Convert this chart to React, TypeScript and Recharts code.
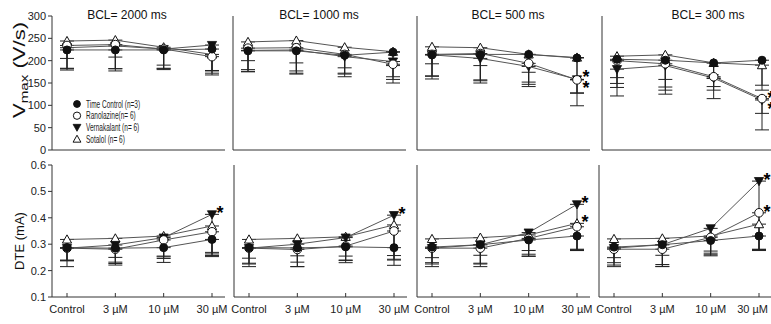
import React from 'react';
import { LineChart, Line, XAxis, YAxis, ErrorBar, ReferenceDot, Legend } from 'recharts';

const FONT = '"Liberation Sans", Arial, Helvetica, sans-serif';

const categories = ['Control', '3 µM', '10 µM', '30 µM'];
const bclTitles = ['BCL= 2000 ms', 'BCL= 1000 ms', 'BCL= 500 ms', 'BCL= 300 ms'];
const seriesNames = ['Time Control (n=3)', 'Ranolazine(n= 6)', 'Vernakalant (n= 6)', 'Sotalol (n= 6)'];
const vmaxTicks = [0, 50, 100, 150, 200, 250, 300];
const dteTicks = [0.1, 0.2, 0.3, 0.4, 0.5, 0.6];

// Vmax (V/s), one row per BCL panel [2000, 1000, 500, 300] ms
const vmaxTimeControl = [[224, 224, 224, 226], [222, 222, 212, 219], [213, 214, 214, 206], [203, 201, 195, 201]];
const vmaxTimeControlSD = [[19, 16, 34, 49], [22, 27, 28, 30], [20, 25, 40, 48], [54, 60, 53, 56]];
const vmaxRanolazine = [[234, 236, 226, 209], [228, 229, 214, 192], [214, 216, 194, 157], [200, 193, 164, 115]];
const vmaxRanolazineSD = [[51, 54, 44, 37], [53, 59, 50, 42], [55, 66, 52, 58], [60, 59, 30, 70]];
const vmaxVernakalant = [[229, 233, 226, 235], [223, 224, 209, 198], [213, 205, 187, 158], [181, 189, 161, 112]];
const vmaxVernakalantSD = [[50, 56, 46, 67], [47, 52, 39, 40], [48, 50, 40, 30], [60, 64, 46, 30]];
const vmaxSotalol = [[244, 246, 230, 214], [242, 245, 230, 220], [231, 229, 214, 207], [210, 213, 195, 190]];
const vmaxSotalolSD = [[62, 64, 47, 36], [62, 68, 58, 56], [65, 72, 62, 80], [48, 55, 35, 56]];

// DTE (mA), one row per BCL panel [2000, 1000, 500, 300] ms
const dteTimeControl = [[0.287, 0.285, 0.287, 0.318], [0.287, 0.286, 0.29, 0.287], [0.289, 0.298, 0.316, 0.331], [0.289, 0.298, 0.314, 0.331]];
const dteTimeControlSD = [[0.05, 0.035, 0.035, 0.055], [0.04, 0.03, 0.035, 0.03], [0.04, 0.04, 0.04, 0.05], [0.04, 0.04, 0.04, 0.05]];
const dteRanolazine = [[0.285, 0.281, 0.316, 0.347], [0.285, 0.28, 0.293, 0.35], [0.285, 0.285, 0.322, 0.366], [0.281, 0.281, 0.326, 0.419]];
const dteRanolazineSD = [[0.07, 0.06, 0.07, 0.09], [0.07, 0.065, 0.063, 0.13], [0.07, 0.06, 0.06, 0.09], [0.06, 0.065, 0.06, 0.14]];
const dteVernakalant = [[0.285, 0.297, 0.325, 0.413], [0.285, 0.3, 0.325, 0.41], [0.285, 0.298, 0.344, 0.451], [0.285, 0.298, 0.36, 0.539]];
const dteVernakalantSD = [[0.045, 0.07, 0.07, 0.16], [0.06, 0.085, 0.085, 0.17], [0.055, 0.07, 0.09, 0.175], [0.055, 0.075, 0.1, 0.26]];
const dteSotalol = [[0.318, 0.322, 0.331, 0.369], [0.318, 0.322, 0.328, 0.373], [0.32, 0.325, 0.335, 0.379], [0.32, 0.322, 0.331, 0.376]];
const dteSotalolSD = [[0.08, 0.09, 0.1, 0.1], [0.09, 0.09, 0.09, 0.13], [0.095, 0.11, 0.08, 0.1], [0.105, 0.107, 0.075, 0.1]];

// significance stars at 30 µM: [series key, number of stars]
const vmaxStarred: [string, number][][] = [[], [], [['ve', 2]], [['ve', 2]]];
const dteStarred: [string, number][][] = [[['ve', 1]], [['ve', 1]], [['ve', 1], ['so', 1]], [['ve', 1], ['ra', 1]]];

type Kind = 'tc' | 'ra' | 've' | 'so';
const DRAW_ORDER: Kind[] = ['so', 've', 'ra', 'tc'];
const LEGEND_ORDER: Kind[] = ['tc', 'ra', 've', 'so'];

function marker(kind: Kind, cx: number, cy: number, s: number, key?: string) {
  const ink = '#111';
  if (kind === 'tc') return <circle key={key} cx={cx} cy={cy} r={4 * s} fill={ink} stroke={ink} />;
  if (kind === 'ra') return <circle key={key} cx={cx} cy={cy} r={4.3 * s} fill="#fff" stroke={ink} strokeWidth={1} />;
  if (kind === 've') {
    const p = `${cx - 4.6 * s},${cy - 3.6 * s} ${cx + 4.6 * s},${cy - 3.6 * s} ${cx},${cy + 4.6 * s}`;
    return <polygon key={key} points={p} fill={ink} stroke={ink} strokeWidth={0.8} />;
  }
  const p = `${cx - 4.6 * s},${cy + 3.6 * s} ${cx + 4.6 * s},${cy + 3.6 * s} ${cx},${cy - 4.6 * s}`;
  return <polygon key={key} points={p} fill="#fff" stroke={ink} strokeWidth={1} />;
}

function buildRows(p: number, tc: number[][], tcSD: number[][], ra: number[][], raSD: number[][], ve: number[][], veSD: number[][], so: number[][], soSD: number[][]) {
  return categories.map((cat, i) => ({
    cat,
    tc: tc[p][i], tcE: [tcSD[p][i], 0],
    ra: ra[p][i], raE: [raSD[p][i], 0],
    ve: ve[p][i], veE: [veSD[p][i], 0],
    so: so[p][i], soE: [soSD[p][i], 0],
  }));
}

const LegendBox = () => (
  <svg width={90} height={50} style={{ display: 'block', overflow: 'visible' }}>
    {LEGEND_ORDER.map((k, i) => (
      <g key={k}>
        {marker(k, 7, 7 + i * 11.7, 0.85)}
        <g transform={`translate(16, ${7 + i * 11.7 + 3.6}) scale(0.62, 1)`}>
          <text x={0} y={0} fontSize={10.5} fill="#222" fontFamily={FONT}>{seriesNames[i]}</text>
        </g>
      </g>
    ))}
  </svg>
);

function makeXTick(rightLimit: number) {
  return (props: any) => {
    const { x, y, payload } = props;
    const label = String(payload.value);
    const half = label.length * 3.1;
    const overflow = x + half > rightLimit;
    return (
      <text
        x={overflow ? rightLimit : x}
        y={y}
        dy="0.71em"
        textAnchor={overflow ? 'end' : 'middle'}
        fontSize={11}
        fill="#222"
        fontFamily={FONT}
      >
        {label}
      </text>
    );
  };
}

function Panel({ top, panel }: { top: boolean; panel: number }) {
  const axisX = top ? [52, 233, 417, 602][panel] : [52, 234, 417, 599][panel];
  const first = panel === 0;
  const yW = first ? 52 : 10;
  const left = axisX - yW;
  const plotW = 173;
  const rightM = 18;
  const width = yW + plotW + rightM;
  const height = top ? 160 : 169;
  const divTop = top ? 0 : 155;
  const margin = top ? { top: 16, right: rightM, bottom: 5, left: 0 } : { top: 10, right: rightM, bottom: 7, left: 0 };
  const xH = top ? 5 : 20;
  const data = top
    ? buildRows(panel, vmaxTimeControl, vmaxTimeControlSD, vmaxRanolazine, vmaxRanolazineSD, vmaxVernakalant, vmaxVernakalantSD, vmaxSotalol, vmaxSotalolSD)
    : buildRows(panel, dteTimeControl, dteTimeControlSD, dteRanolazine, dteRanolazineSD, dteVernakalant, dteVernakalantSD, dteSotalol, dteSotalolSD);
  const starred = top ? vmaxStarred[panel] : dteStarred[panel];
  const last = data[data.length - 1] as any;
  const titleX = [127, 319, 508, 708][panel] - left;
  const rightLimit = 771 - left - 3;

  return (
    <div style={{ position: 'absolute', left, top: divTop, width, height }}>
      <LineChart width={width} height={height} data={data} margin={margin} style={{ fontFamily: FONT }}>
        <XAxis
          dataKey="cat"
          type="category"
          padding={{ left: 15, right: 13 }}
          height={xH}
          interval={0}
          tickSize={-4}
          tickMargin={12}
          tick={top ? false : makeXTick(rightLimit)}
          axisLine={{ stroke: '#333' }}
          tickLine={{ stroke: '#333' }}
        />
        <YAxis
          width={yW}
          type="number"
          domain={top ? [0, 300] : [0.1, 0.6]}
          ticks={top ? vmaxTicks : dteTicks}
          interval={0}
          allowDataOverflow
          tickSize={first ? 4 : -4}
          tickMargin={2}
          tickFormatter={(v: number) => (top ? String(v) : v.toFixed(1))}
          tick={first ? { fontSize: 11, fill: '#222', fontFamily: FONT } : false}
          axisLine={{ stroke: '#333' }}
          tickLine={{ stroke: '#333' }}
        />
        {DRAW_ORDER.map((k) => (
          <Line
            key={k}
            dataKey={k}
            stroke="#555"
            strokeWidth={1}
            isAnimationActive={false}
            activeDot={false}
            dot={(p: any) => marker(k, p.cx, p.cy, 1, `${k}-${p.index}`)}
          >
            <ErrorBar dataKey={`${k}E`} width={7} stroke="#222" strokeWidth={1} direction="y" />
          </Line>
        ))}
        {starred.map(([k, count], j) => {
          const dx = top ? 9 : 8;
          const dy = count === 2 ? -6 : -5;
          return (
            <ReferenceDot
              key={`star-${j}`}
              x={categories[3]}
              y={last[k]}
              r={0}
              ifOverflow="visible"
              shape={(p: any) => (
                <text x={p.cx + dx} y={p.cy + dy + 10} fontSize={18} fontWeight="bold" textAnchor="middle" fill="#000" fontFamily={FONT}>
                  <tspan x={p.cx + dx}>*</tspan>
                  {count === 2 && <tspan x={p.cx + dx} dy={11}>*</tspan>}
                </text>
              )}
            />
          );
        })}
        {top && (
          <text x={titleX} y={19} fontSize={12} textAnchor="middle" fill="#111" fontFamily={FONT}>{bclTitles[panel]}</text>
        )}
        {first && top && (
          <text transform="translate(25,70) rotate(-90)" fontSize={16} textAnchor="middle" fill="#111" fontFamily={FONT} textLength={96} lengthAdjust="spacingAndGlyphs">
            V<tspan fontSize={11} dy={3}>max</tspan><tspan dy={-3}> (V/s)</tspan>
          </text>
        )}
        {first && !top && (
          <text transform={`translate(24,${241 - 155}) rotate(-90)`} fontSize={13} textAnchor="middle" fill="#111" fontFamily={FONT}>DTE (mA)</text>
        )}
        {first && top && (
          <Legend
            layout="vertical"
            align="center"
            verticalAlign="middle"
            content={() => <LegendBox />}
            wrapperStyle={{ position: 'absolute', left: 70, top: 97, width: 90, height: 50 }}
          />
        )}
      </LineChart>
    </div>
  );
}

export default function App() {
  return (
    <div style={{ position: 'absolute', left: 0, top: 0, width: 771, height: 324, background: '#fff', overflow: 'hidden', fontFamily: FONT }}>
      {[0, 1, 2, 3].map((p) => (
        <Panel key={`t${p}`} top panel={p} />
      ))}
      {[0, 1, 2, 3].map((p) => (
        <Panel key={`b${p}`} top={false} panel={p} />
      ))}
    </div>
  );
}
